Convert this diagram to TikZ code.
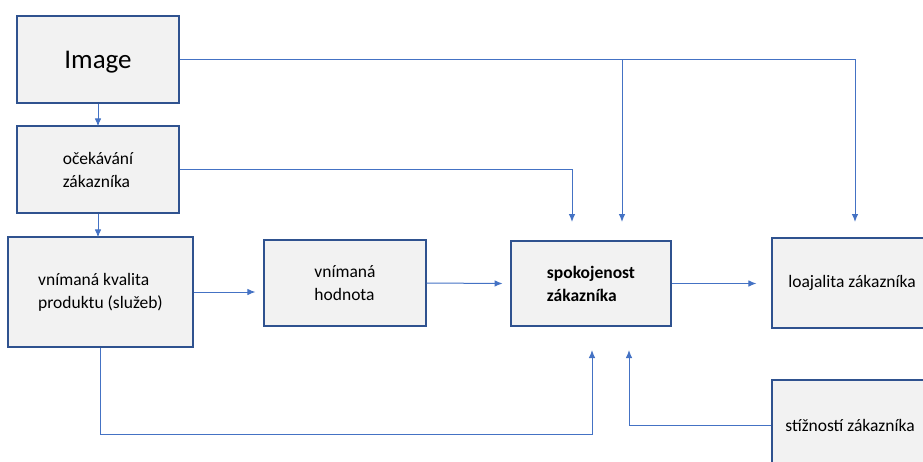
\documentclass[tikz,border=0pt]{standalone}
\usepackage{fontspec}
\setmainfont{Carlito}
\usetikzlibrary{arrows.meta,positioning}
\definecolor{boxfill}{HTML}{F2F2F2}
\definecolor{boxline}{HTML}{2F528F}
\definecolor{flow}{HTML}{4472C4}

\begin{document}
\begin{tikzpicture}[x=1pt, y=-1pt, >={Latex[length=8pt,width=6.5pt]}]
\tikzset{
  box/.style = {rectangle, draw=boxline, line width=1.1pt, fill=boxfill, align=left, inner sep=0pt, font=\fontsize{17.5}{23}\selectfont},
  mainbox/.style = {box, line width=2.8pt, font=\fontsize{17.5}{23}\selectfont\bfseries},
  link/.style = {draw=flow, line width=1pt}
}
\useasboundingbox (0,0) rectangle (923,461);

% Boxes
\node[box, minimum width=162pt, minimum height=87pt, text depth=0pt, font=\fontsize{27}{30}\selectfont] (img) at (98,59.5) {Image};
\node[box, minimum width=162pt, minimum height=87pt] (ocek) at (98,169.5) {očekávání\\zákazníka};
\node[box, minimum width=185pt, minimum height=110pt] (kval) at (100.5,292) {vnímaná kvalita\\produktu (služeb)};
\node[box, minimum width=162pt, minimum height=86pt] (hodn) at (345,283) {vnímaná\\hodnota};
\node[mainbox, minimum width=160pt, minimum height=85pt] (spok) at (591,283.5) {spokojenost\\zákazníka};
\node[box, minimum width=160pt, minimum height=90pt] (loaj) at (852,283) {loajalita zákazníka};
\node[box, minimum width=156pt, minimum height=90pt] (stiz) at (850,425) {stížností zákazníka};

% Arrow ends
\coordinate (spokA) at (572,222);
\coordinate (spokB) at (622,222);
\coordinate (spokC) at (592,350);
\coordinate (spokD) at (629,350);
\coordinate (loajin) at (855,222);
\coordinate (lowline) at (0,434);

% Connectors
\draw[link, ->] (img.south) -- ([yshift=-1pt]ocek.north);
\draw[link, ->] (ocek.south) -- ([yshift=-1pt]kval.north -| ocek.south);
\draw[link, ->] (img.east) -| (loajin);
\draw[link, ->] (img.east -| spokB) -- (spokB);
\draw[link, ->] (ocek.east) -| (spokA);
\draw[link, ->] (kval.east |- 0,292) -- ([xshift=-8pt]hodn.west |- 0,292);
\draw[link, ->] (hodn.east) -- ([xshift=-7pt]spok.west);
\draw[link, ->] (spok.east) -- ([xshift=-15pt]loaj.west |- spok.east);
\draw[link, ->] (kval.south) |- (lowline -| spokC) -- (spokC);
\draw[link, ->] (stiz.west) -| (spokD);

\end{tikzpicture}
\end{document}
